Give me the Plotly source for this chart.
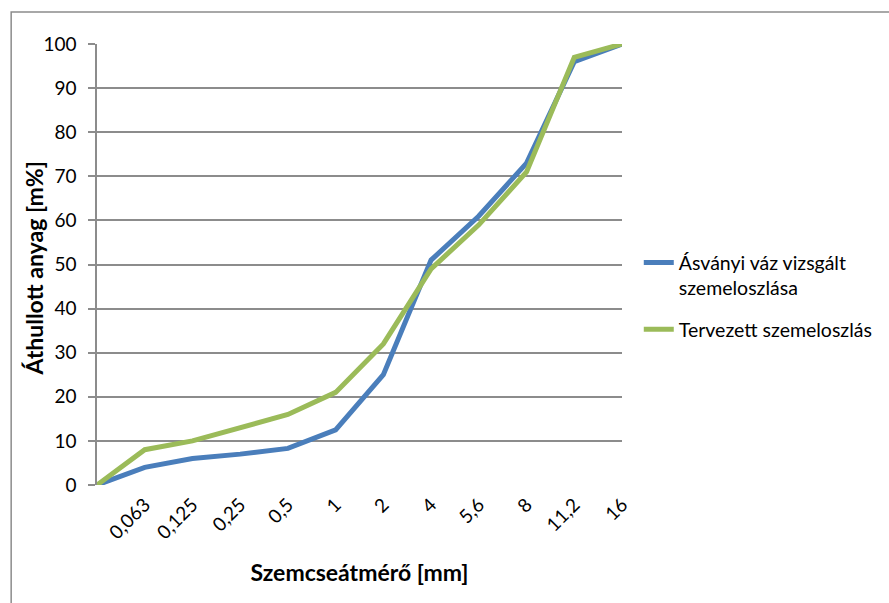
import plotly.graph_objects as go

categories = ["", "0,063", "0,125", "0,25", "0,5", "1", "2", "4", "5,6", "8", "11,2", "16"]
asvanyi = [0, 4, 6, 7, 8.3, 12.5, 25, 51, 61, 73, 96, 100]
tervezett = [0, 8, 10, 13, 16, 21, 32, 49, 59, 71, 97, 100]
name_a = "Ásványi váz vizsgált<br>szemeloszlása"
name_t = "Tervezett szemeloszlás"
y_ticks = [0, 10, 20, 30, 40, 50, 60, 70, 80, 90, 100]
x_title = "Szemcseátmérő [mm]"
y_title = "Áthullott anyag [m%]"

FONT = "Lato, Roboto, sans-serif"
GRID = "#8c8c8c"

x = list(range(len(categories)))

fig = go.Figure()
fig.add_trace(go.Scatter(x=x, y=asvanyi, mode="lines", name=name_a, legendgroup="a",
                         line=dict(color="#4a7ebb", width=5)))
fig.add_trace(go.Scatter(x=x, y=tervezett, mode="lines", name=name_t, legendgroup="b",
                         line=dict(color="#9bbb59", width=5)))

fig.update_layout(
    width=889, height=603,
    margin=dict(l=97, r=266, t=44, b=118),
    paper_bgcolor="white", plot_bgcolor="white",
    font=dict(family=FONT, size=19, color="black"),
    showlegend=True,
    legend=dict(x=1.03, xanchor="left", y=0.548, yanchor="top", valign="top",
                font=dict(family=FONT, size=19.5, color="black"),
                tracegroupgap=13, bgcolor="rgba(0,0,0,0)"),
    xaxis=dict(range=[0, 11], tickmode="array", tickvals=x[1:], ticktext=categories[1:],
               tickangle=-45, showgrid=False, zeroline=False, showline=False,
               ticks="", ticklabelstandoff=4,
               title=dict(text="<b>" + x_title + "</b>", standoff=22,
                          font=dict(family=FONT, size=23))),
    yaxis=dict(range=[0, 100], tickmode="array", tickvals=y_ticks,
               showgrid=True, gridcolor=GRID, gridwidth=1.5, zeroline=False,
               showline=True, linecolor=GRID, linewidth=1.5,
               ticks="outside", ticklen=7, tickcolor=GRID, tickwidth=1.5,
               ticklabelstandoff=8),
    annotations=[dict(text="<b>" + y_title + "</b>", xref="paper", yref="paper",
                      x=(34 - 97) / 526, y=0.491, textangle=-90, showarrow=False,
                      xanchor="center", yanchor="middle",
                      font=dict(family=FONT, size=23, color="black"))],
    shapes=[dict(type="rect", xref="paper", yref="paper",
                 x0=(11 - 97) / 526, x1=2.0, y0=-1.0, y1=(485 - 12) / 441,
                 line=dict(color="#8c8c8c", width=1.5), fillcolor="rgba(0,0,0,0)", layer="below")],
)

fig.write_html("out.html")
